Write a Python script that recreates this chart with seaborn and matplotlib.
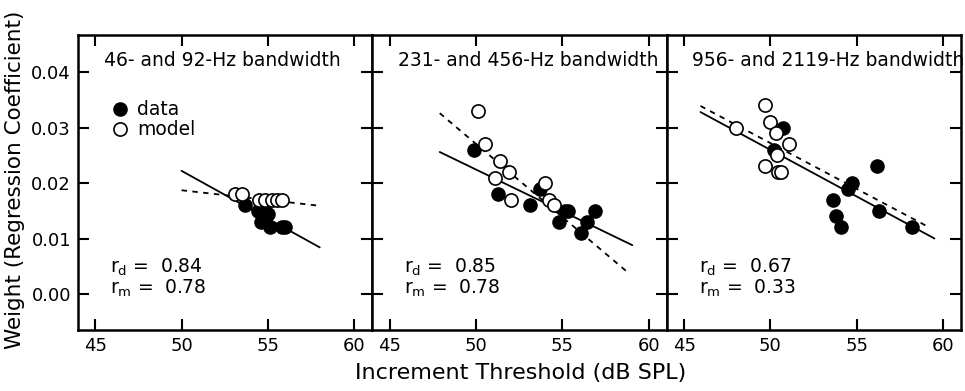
import matplotlib
matplotlib.use('Agg')
import matplotlib.pyplot as plt
import seaborn as sns
import pandas as pd

# panel titles and correlation labels
titles = ['46- and 92-Hz bandwidth', '231- and 456-Hz bandwidth', '956- and 2119-Hz bandwidth']
r_data = ['0.84', '0.85', '0.67']
r_model = ['0.78', '0.78', '0.33']

# data (filled) points per panel
data_x = [
    [53.7, 54.4, 54.85, 54.6, 55.0, 55.1, 55.8, 56.0],
    [49.9, 51.3, 53.1, 53.7, 54.8, 55.15, 55.3, 56.1, 56.45, 56.9],
    [50.2, 50.7, 53.6, 53.8, 54.1, 54.5, 54.75, 56.2, 56.3, 58.2],
]
data_y = [
    [0.016, 0.015, 0.015, 0.013, 0.0145, 0.012, 0.012, 0.012],
    [0.026, 0.018, 0.016, 0.019, 0.013, 0.015, 0.015, 0.011, 0.013, 0.015],
    [0.026, 0.030, 0.017, 0.014, 0.012, 0.019, 0.020, 0.023, 0.015, 0.012],
]

# model (open) points per panel
model_x = [
    [53.1, 53.5, 54.5, 54.85, 55.25, 55.5, 55.8],
    [50.1, 50.5, 51.4, 51.9, 51.1, 52.0, 54.0, 54.2, 54.5],
    [48.0, 49.7, 50.0, 50.3, 51.05, 50.4, 49.7, 50.45, 50.6],
]
model_y = [
    [0.018, 0.018, 0.017, 0.017, 0.017, 0.017, 0.017],
    [0.033, 0.027, 0.024, 0.022, 0.021, 0.017, 0.020, 0.017, 0.016],
    [0.030, 0.034, 0.031, 0.029, 0.027, 0.025, 0.023, 0.022, 0.022],
]

# regression lines (endpoints)
fit_data_x = [[50.0, 58.0], [47.9, 59.05], [45.95, 59.5]]
fit_data_y = [[0.0222, 0.0084], [0.0256, 0.0088], [0.0328, 0.0100]]
fit_model_x = [[50.0, 58.0], [47.9, 58.9], [45.95, 59.2]]
fit_model_y = [[0.0187, 0.0159], [0.0326, 0.0036], [0.0339, 0.0120]]

sns.set_style('ticks')
plt.rcParams['font.family'] = ['DejaVu Sans']
for k in ['text.color', 'axes.labelcolor', 'xtick.color', 'ytick.color', 'axes.edgecolor']:
    plt.rcParams[k] = 'black'

fig = plt.figure(figsize=(9.65, 3.91), dpi=100)
left, bottom, w, h = 0.0808, 0.156, 0.3051, 0.7545
axes = [fig.add_axes([left + i * w, bottom, w, h]) for i in range(3)]

for i, ax in enumerate(axes):
    sns.lineplot(x=fit_data_x[i], y=fit_data_y[i], ax=ax, color='black', lw=1.3)
    sns.lineplot(x=fit_model_x[i], y=fit_model_y[i], ax=ax, color='black', lw=1.3,
                 linestyle=(0, (3, 3)))
    sns.scatterplot(x=data_x[i], y=data_y[i], ax=ax, color='black', s=90,
                    edgecolor='black', linewidth=1, zorder=3)
    sns.scatterplot(x=model_x[i], y=model_y[i], ax=ax, color='white', s=90,
                    edgecolor='black', linewidth=1.2, zorder=4)

    ax.set_xlim(44.0, 61.05)
    ax.set_ylim(-0.0065, 0.0467)
    ax.set_xticks([45, 50, 55, 60])
    ax.set_yticks([0.0, 0.01, 0.02, 0.03, 0.04])
    ax.tick_params(direction='in', length=8, width=1.5, top=True, right=True,
                   labelsize=13, pad=5)
    for sp in ax.spines.values():
        sp.set_linewidth(1.8)
        sp.set_visible(True)
    if i == 0:
        ax.set_yticklabels(['0.00', '0.01', '0.02', '0.03', '0.04'])
    else:
        ax.set_yticklabels([])
    ax.set_xlabel('')
    ax.set_ylabel('')

    ax.text(0.087, 0.915, titles[i], transform=ax.transAxes, ha='left', va='center',
            fontsize=13.5)
    ax.text(0.108, 0.214, r'r$_\mathregular{d}$ =  ' + r_data[i], transform=ax.transAxes,
            ha='left', va='center', fontsize=13.5)
    ax.text(0.108, 0.142, r'r$_\mathregular{m}$ =  ' + r_model[i], transform=ax.transAxes,
            ha='left', va='center', fontsize=13.5)

# legend in first panel
ax = axes[0]
ax.scatter([0.142], [0.749], transform=ax.transAxes, s=90, color='black', clip_on=False)
ax.scatter([0.142], [0.681], transform=ax.transAxes, s=90, facecolor='white',
           edgecolor='black', linewidth=1.2, clip_on=False)
ax.text(0.2, 0.749, 'data', transform=ax.transAxes, va='center', fontsize=13.5)
ax.text(0.2, 0.681, 'model', transform=ax.transAxes, va='center', fontsize=13.5)

fig.text(0.54, 0.045, 'Increment Threshold (dB SPL)', ha='center', va='center', fontsize=16)
fig.text(0.016, 0.54, 'Weight (Regression Coefficient)', ha='center', va='center',
         rotation=90, fontsize=15.5)

fig.savefig('out.png', dpi=100)
